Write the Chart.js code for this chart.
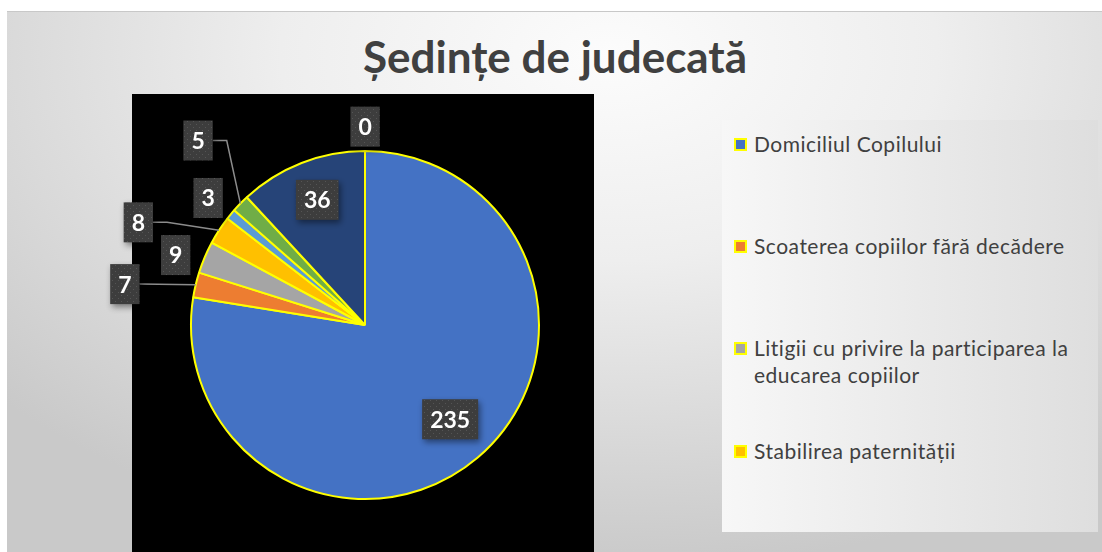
<!DOCTYPE html>
<html>
<head>
<meta charset="utf-8">
<script src="https://cdn.jsdelivr.net/npm/chart.js@4"></script>
<style>
  html, body { margin: 0; padding: 0; background: #fff; }
  #page { position: relative; width: 1102px; height: 552px; overflow: hidden; background: #fff; }
  #bg {
    position: absolute; left: 7px; top: 11px; right: 0; bottom: 0;
    border-top: 1px solid #c8c8c8;
    background: radial-gradient(ellipse 75% 95% at 55% 8%, #fcfcfc 0%, #eeeeee 40%, #c9c9c9 100%);
  }
  #title {
    position: absolute; left: 0; width: 1110px; top: 30px; text-align: center;
    font: bold 44px Lato, "Open Sans", sans-serif; color: #404040;
  }
  #legendBox {
    position: absolute; left: 722px; top: 120px; width: 376px; height: 412px;
    background: linear-gradient(to right, #f7f7f7, #dedede);
  }
  #legend { position: absolute; left: 734px; top: 130px; width: 345px; }
  .item { position: relative; padding-left: 20px; font: 21px Lato, "Open Sans", sans-serif; letter-spacing: 0.5px; color: #404040; line-height: 27px; }
  .sw { position: absolute; left: 0; top: 8px; width: 9px; height: 9px; border: 2px solid #ffff00; }
  canvas { position: absolute; left: 0; top: 0; }
</style>
</head>
<body>
<div id="page">
  <div id="bg"></div>
  <div id="title">Ședințe de judecată</div>
  <div id="legendBox"></div>
  <div id="legend"></div>
  <canvas id="c" width="1102" height="552"></canvas>
</div>
<script>
const labels = [
  "Domiciliul Copilului",
  "Scoaterea copiilor fără decădere",
  "Litigii cu privire la participarea la educarea copiilor",
  "Stabilirea paternității",
  "Categoria 5",
  "Categoria 6",
  "Categoria 7",
  "Categoria 8"
];
const values = [235, 7, 9, 8, 3, 5, 0, 36];
const colors = ["#4472C4", "#ED7D31", "#A5A5A5", "#FFC000", "#5B9BD5", "#70AD47", "#9E480E", "#264478"];
const legendShown = 4;

// label placement: angle shift (deg) from slice middle, radius as fraction of pie radius
const labelShift = [-1.7, -3.7, -2.6, -8.6, -0.5, 3.6, 42.8, 0.5];
const labelRadius = [0.73, 1.40, 1.16, 1.43, 1.16, 1.43, 1.14, 0.77];
const leader = [false, true, false, true, false, true, false, false];

// html legend
const legendEl = document.getElementById("legend");
const gaps = [0, 75, 75, 49];
labels.slice(0, legendShown).forEach((l, i) => {
  const d = document.createElement("div");
  d.className = "item";
  d.style.marginTop = gaps[i] + "px";
  d.innerHTML = '<span class="sw" style="background:' + colors[i] + '"></span>' + l;
  legendEl.appendChild(d);
});

// dotted pattern for label boxes
function makePattern(ctx) {
  const p = document.createElement("canvas");
  p.width = 6; p.height = 6;
  const pc = p.getContext("2d");
  pc.fillStyle = "#3d3d3d";
  pc.fillRect(0, 0, 6, 6);
  pc.fillStyle = "#555555";
  pc.fillRect(1, 1, 1, 1);
  pc.fillRect(4, 4, 1, 1);
  return ctx.createPattern(p, "repeat");
}

const plotBg = {
  id: "plotBg",
  beforeDraw(chart) {
    const { ctx, chartArea } = chart;
    ctx.save();
    ctx.fillStyle = "#000";
    ctx.fillRect(chartArea.left - 58, chartArea.top - 56, 462, chart.height - chartArea.top + 56);
    ctx.restore();
  }
};

const valueLabels = {
  id: "valueLabels",
  afterDatasetsDraw(chart) {
    const ctx = chart.ctx;
    const meta = chart.getDatasetMeta(0);
    const pat = makePattern(ctx);
    ctx.save();
    ctx.font = "bold 23px Lato, 'Open Sans', sans-serif";
    meta.data.forEach((arc, i) => {
      const p = arc.getProps(["x", "y", "startAngle", "endAngle", "outerRadius"], true);
      const mid = (p.startAngle + p.endAngle) / 2;
      const a = mid + labelShift[i] * Math.PI / 180;
      const lx = p.x + Math.cos(a) * p.outerRadius * labelRadius[i];
      const ly = p.y + Math.sin(a) * p.outerRadius * labelRadius[i];
      const txt = String(values[i]);
      const w = ctx.measureText(txt).width + 16;
      const h = 40;
      if (leader[i]) {
        const ex = p.x + Math.cos(mid) * p.outerRadius;
        const ey = p.y + Math.sin(mid) * p.outerRadius;
        ctx.strokeStyle = "#8c8c8c";
        ctx.lineWidth = 1.5;
        ctx.beginPath();
        ctx.moveTo(lx + w / 2, ly);
        if (Math.abs(ey - ly) > 4) ctx.lineTo(lx + w / 2 + 14, ly);
        ctx.lineTo(ex, ey);
        ctx.stroke();
      }
      ctx.shadowColor = "rgba(0,0,0,0.45)";
      ctx.shadowBlur = 6;
      ctx.shadowOffsetX = 2;
      ctx.shadowOffsetY = 3;
      ctx.fillStyle = pat;
      ctx.fillRect(lx - w / 2, ly - h / 2, w, h);
      ctx.shadowColor = "transparent";
      ctx.fillStyle = "#fff";
      ctx.textAlign = "center";
      ctx.textBaseline = "middle";
      ctx.fillText(txt, lx, ly + 1);
    });
    ctx.restore();
  }
};

new Chart(document.getElementById("c"), {
  type: "pie",
  data: {
    labels: labels,
    datasets: [{
      data: values,
      backgroundColor: colors,
      borderColor: "#ffff00",
      borderWidth: 2
    }]
  },
  options: {
    responsive: false,
    animation: false,
    layout: { padding: { left: 190, top: 150, right: 562, bottom: 52 } },
    plugins: {
      legend: { display: false },
      tooltip: { enabled: false }
    }
  },
  plugins: [plotBg, valueLabels]
});
</script>
</body>
</html>
